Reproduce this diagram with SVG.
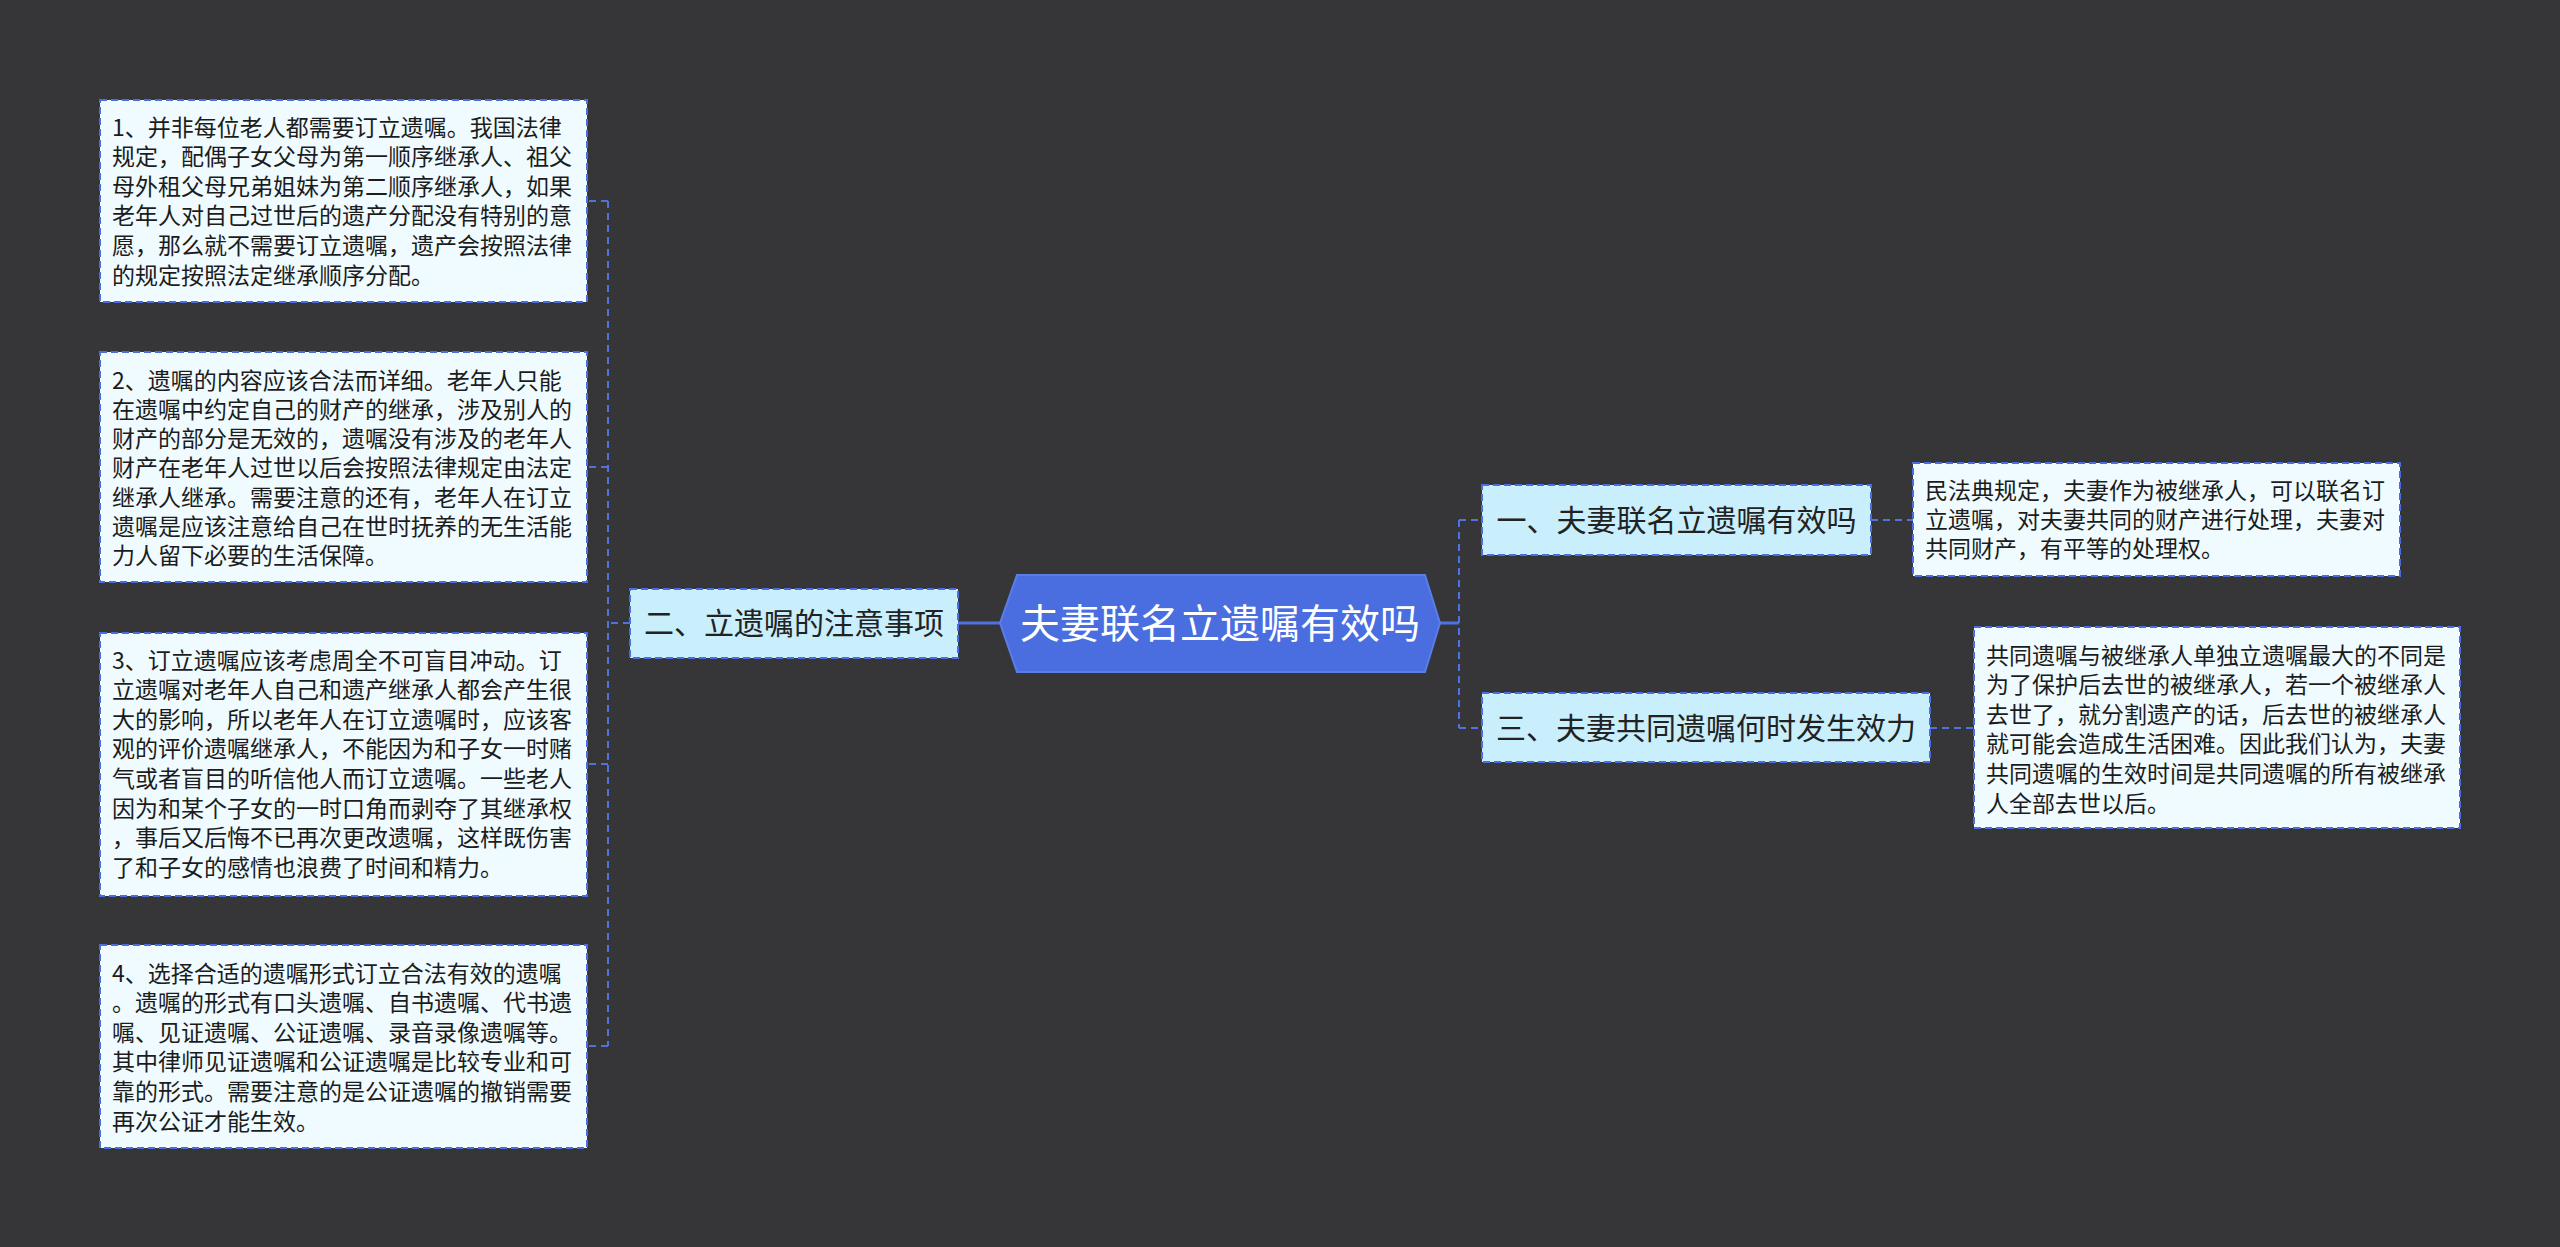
<svg xmlns="http://www.w3.org/2000/svg" width="2560" height="1247" viewBox="0 0 2560 1247">
<style>
.leaf{fill:#effbfe;stroke:#4a6ee0;stroke-width:2;stroke-dasharray:7 4}
.node{fill:#c9eefc;stroke:#4a6ee0;stroke-width:2;stroke-dasharray:7 4}
.lt{font-family:"Noto Sans CJK SC","Noto Sans",sans-serif;font-size:23px;fill:#1c1c1c}
.nt{font-family:"Noto Sans CJK SC","Noto Sans",sans-serif;font-size:30px;fill:#222}
.ct{font-family:"Noto Sans CJK SC","Noto Sans",sans-serif;font-size:40px;fill:#ffffff}
.dash{fill:none;stroke:#4f72e2;stroke-width:2;stroke-dasharray:7 5}
.solid{fill:none;stroke:#4f72e2;stroke-width:3}
</style>
<rect x="0" y="0" width="2560" height="1247" fill="#363538"/>
<g id="connectors">
<path class="solid" d="M1000 623 H958"/>
<path class="dash" d="M630 623 H608"/>
<path class="dash" d="M608 201 V1046"/>
<path class="dash" d="M608 201 H587 M608 467 H587 M608 764 H587 M608 1046 H587"/>
<path class="solid" d="M1440 623 H1459"/>
<path class="dash" d="M1459 520 V728"/>
<path class="dash" d="M1459 520 H1482 M1459 728 H1482"/>
<path class="dash" d="M1871 520 H1913"/>
<path class="dash" d="M1930 728 H1974"/>
</g>
<g id="center">
<polygon points="1000,623 1017,575 1425,575 1440,623 1425,672 1017,672" fill="#4a6ee0" stroke="#5a7ee8" stroke-width="2"/>
<text class="ct" x="1220" y="638" text-anchor="middle">夫妻联名立遗嘱有效吗</text>
</g>
<g id="n2">
<rect class="node" x="630" y="589" width="328" height="69"/>
<text class="nt" x="794" y="634" text-anchor="middle">二、立遗嘱的注意事项</text>
</g>
<g id="n1">
<rect class="node" x="1482" y="485" width="389" height="70"/>
<text class="nt" x="1676.5" y="531" text-anchor="middle">一、夫妻联名立遗嘱有效吗</text>
</g>
<g id="n3">
<rect class="node" x="1482" y="693" width="448" height="69"/>
<text class="nt" x="1706" y="739" text-anchor="middle">三、夫妻共同遗嘱何时发生效力</text>
</g>
<g id="leaf1">
<rect class="leaf" x="100" y="100" width="487" height="202"/>
<text class="lt" x="112" y="135.5">
<tspan x="112">1、并非每位老人都需要订立遗嘱。我国法律</tspan>
<tspan x="112" dy="29.6">规定，配偶子女父母为第一顺序继承人、祖父</tspan>
<tspan x="112" dy="29.6">母外租父母兄弟姐妹为第二顺序继承人，如果</tspan>
<tspan x="112" dy="29.6">老年人对自己过世后的遗产分配没有特别的意</tspan>
<tspan x="112" dy="29.6">愿，那么就不需要订立遗嘱，遗产会按照法律</tspan>
<tspan x="112" dy="29.6">的规定按照法定继承顺序分配。</tspan>
</text>
</g>
<g id="leaf2">
<rect class="leaf" x="100" y="352" width="487" height="230"/>
<text class="lt" x="112" y="388.5">
<tspan x="112">2、遗嘱的内容应该合法而详细。老年人只能</tspan>
<tspan x="112" dy="29.3">在遗嘱中约定自己的财产的继承，涉及别人的</tspan>
<tspan x="112" dy="29.3">财产的部分是无效的，遗嘱没有涉及的老年人</tspan>
<tspan x="112" dy="29.3">财产在老年人过世以后会按照法律规定由法定</tspan>
<tspan x="112" dy="29.3">继承人继承。需要注意的还有，老年人在订立</tspan>
<tspan x="112" dy="29.3">遗嘱是应该注意给自己在世时抚养的无生活能</tspan>
<tspan x="112" dy="29.3">力人留下必要的生活保障。</tspan>
</text>
</g>
<g id="leaf3">
<rect class="leaf" x="100" y="633" width="487" height="263"/>
<text class="lt" x="112" y="668.5">
<tspan x="112">3、订立遗嘱应该考虑周全不可盲目冲动。订</tspan>
<tspan x="112" dy="29.6">立遗嘱对老年人自己和遗产继承人都会产生很</tspan>
<tspan x="112" dy="29.6">大的影响，所以老年人在订立遗嘱时，应该客</tspan>
<tspan x="112" dy="29.6">观的评价遗嘱继承人，不能因为和子女一时赌</tspan>
<tspan x="112" dy="29.6">气或者盲目的听信他人而订立遗嘱。一些老人</tspan>
<tspan x="112" dy="29.6">因为和某个子女的一时口角而剥夺了其继承权</tspan>
<tspan x="112" dy="29.6">，事后又后悔不已再次更改遗嘱，这样既伤害</tspan>
<tspan x="112" dy="29.6">了和子女的感情也浪费了时间和精力。</tspan>
</text>
</g>
<g id="leaf4">
<rect class="leaf" x="100" y="945" width="487" height="203"/>
<text class="lt" x="112" y="981.5">
<tspan x="112">4、选择合适的遗嘱形式订立合法有效的遗嘱</tspan>
<tspan x="112" dy="29.6">。遗嘱的形式有口头遗嘱、自书遗嘱、代书遗</tspan>
<tspan x="112" dy="29.6">嘱、见证遗嘱、公证遗嘱、录音录像遗嘱等。</tspan>
<tspan x="112" dy="29.6">其中律师见证遗嘱和公证遗嘱是比较专业和可</tspan>
<tspan x="112" dy="29.6">靠的形式。需要注意的是公证遗嘱的撤销需要</tspan>
<tspan x="112" dy="29.6">再次公证才能生效。</tspan>
</text>
</g>
<g id="leafr1">
<rect class="leaf" x="1913" y="463" width="487" height="113"/>
<text class="lt" x="1925" y="498.5">
<tspan x="1925">民法典规定，夫妻作为被继承人，可以联名订</tspan>
<tspan x="1925" dy="29.3">立遗嘱，对夫妻共同的财产进行处理，夫妻对</tspan>
<tspan x="1925" dy="29.3">共同财产，有平等的处理权。</tspan>
</text>
</g>
<g id="leafr2">
<rect class="leaf" x="1974" y="627" width="486" height="201"/>
<text class="lt" x="1986" y="663.5">
<tspan x="1986">共同遗嘱与被继承人单独立遗嘱最大的不同是</tspan>
<tspan x="1986" dy="29.6">为了保护后去世的被继承人，若一个被继承人</tspan>
<tspan x="1986" dy="29.6">去世了，就分割遗产的话，后去世的被继承人</tspan>
<tspan x="1986" dy="29.6">就可能会造成生活困难。因此我们认为，夫妻</tspan>
<tspan x="1986" dy="29.6">共同遗嘱的生效时间是共同遗嘱的所有被继承</tspan>
<tspan x="1986" dy="29.6">人全部去世以后。</tspan>
</text>
</g>
</svg>
